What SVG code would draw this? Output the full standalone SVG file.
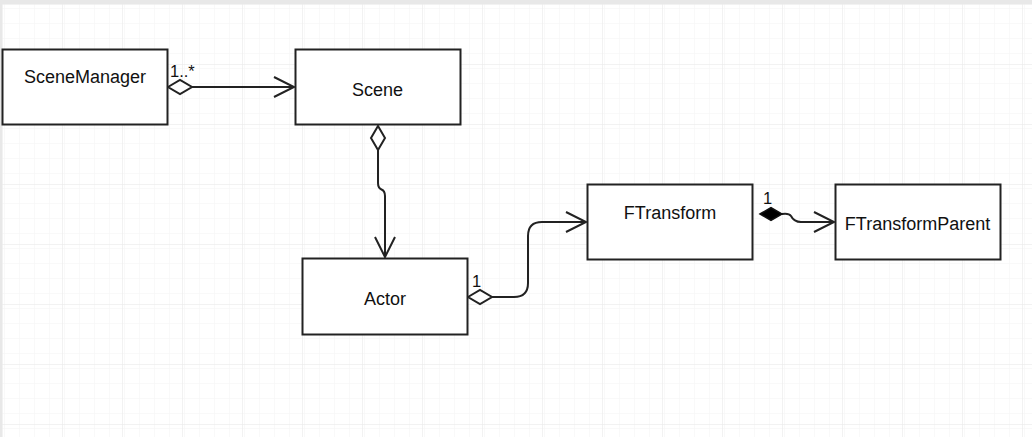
<svg xmlns="http://www.w3.org/2000/svg" width="1032" height="437" viewBox="0 0 1032 437">
<style>
.box{fill:#fff;stroke:#222;stroke-width:2}
.lbl{font-family:"Liberation Sans",Arial,sans-serif;font-size:18px;fill:#111;text-anchor:middle}
.mult{font-family:"Liberation Sans",Arial,sans-serif;font-size:16.5px;fill:#111}
.edge{fill:none;stroke:#222;stroke-width:2}
</style>
<defs>
<pattern id="minor" x="2" y="4" width="15" height="15" patternUnits="userSpaceOnUse">
<path d="M0,0 V15 M0,0 H15" fill="none" stroke="#f3f3f3" stroke-width="1"/>
</pattern>
<pattern id="major" x="2" y="4" width="60" height="60" patternUnits="userSpaceOnUse">
<rect width="60" height="60" fill="url(#minor)"/>
<path d="M0,0 V60 M0,0 H60" fill="none" stroke="#e6e6e6" stroke-width="1"/>
</pattern>
<marker id="open" markerUnits="userSpaceOnUse" viewBox="-24 -13 26 26" refX="0" refY="0" markerWidth="26" markerHeight="26" orient="auto" overflow="visible">
<path d="M-20,-10 L0,0 L-20,10" fill="none" stroke="#222" stroke-width="2"/>
</marker>
<marker id="dia" markerUnits="userSpaceOnUse" viewBox="-2 -9 28 18" refX="0" refY="0" markerWidth="28" markerHeight="18" orient="auto" overflow="visible">
<path d="M0,0 L12,-7 L24,0 L12,7 Z" fill="#fff" stroke="#222" stroke-width="2"/>
</marker>
<marker id="diaF" markerUnits="userSpaceOnUse" viewBox="-2 -9 28 18" refX="0" refY="0" markerWidth="28" markerHeight="18" orient="auto" overflow="visible">
<path d="M0,0 L11,-6.5 L22,0 L11,6.5 Z" fill="#000" stroke="#111" stroke-width="1.5"/>
</marker>
</defs>
<rect x="0" y="0" width="1032" height="437" fill="#fff"/>
<rect x="2" y="4" width="1030" height="433" fill="url(#major)"/>
<rect x="0" y="0" width="1032" height="4" fill="#e8e8e8"/>
<rect x="0" y="0" width="2" height="437" fill="#e8e8e8"/>

<g id="connectors">
<path class="edge" d="M168,87 H294" marker-start="url(#dia)" marker-end="url(#open)"/>
<path class="edge" d="M378,126 V183 Q378,188 381.5,189.5 Q385,191 385,196 V257" marker-start="url(#dia)" marker-end="url(#open)"/>
<path class="edge" d="M468,297 H514 Q528,297 528,283 V236 Q528,222 542,222 H586" marker-start="url(#dia)" marker-end="url(#open)"/>
<path class="edge" d="M760,214 H782 Q789,213 791,216 Q794,222 801,222 H834" marker-start="url(#diaF)" marker-end="url(#open)"/>
<text class="mult" x="170" y="77">1..*</text>
<text class="mult" x="387" y="120">1..*</text>
<text class="mult" x="472" y="287">1</text>
<text class="mult" x="763" y="204">1</text>
</g>

<g id="SceneManager">
<rect class="box" x="2.5" y="49.5" width="165" height="75"/>
<text class="lbl" x="85" y="83">SceneManager</text>
</g>
<g id="Scene">
<rect class="box" x="295.5" y="49.5" width="165" height="75"/>
<text class="lbl" x="377.5" y="96">Scene</text>
</g>
<g id="Actor">
<rect class="box" x="302.5" y="258.5" width="165" height="76"/>
<text class="lbl" x="385" y="305">Actor</text>
</g>
<g id="FTransform">
<rect class="box" x="587.5" y="184.5" width="165" height="75"/>
<text class="lbl" x="670" y="219">FTransform</text>
</g>
<g id="FTransformParent">
<rect class="box" x="835.5" y="184.5" width="165" height="75"/>
<text class="lbl" x="917.5" y="230">FTransformParent</text>
</g>
</svg>
